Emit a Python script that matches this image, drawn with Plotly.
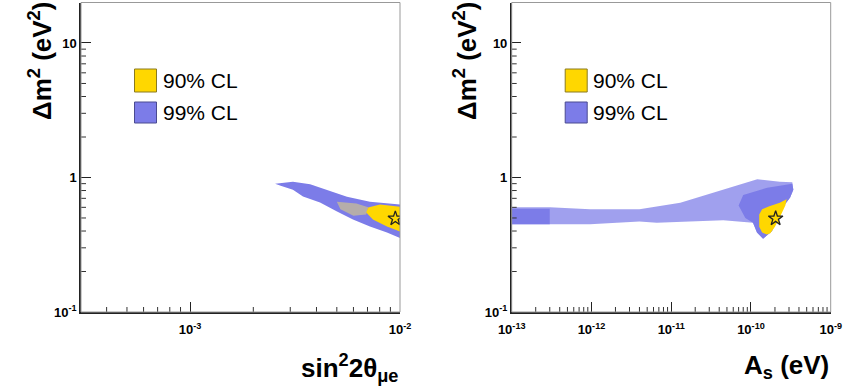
import math
import plotly.graph_objects as go
from plotly.subplots import make_subplots

# ---------------- data ----------------
# Left panel: sin^2 2theta vs dm^2
L_blue_x = [2.54e-3, 3.09e-3, 3.73e-3, 4.49e-3, 5.59e-3, 7.19e-3, 1.0e-2, 1.0e-2,
            8.67e-3, 7.19e-3, 5.97e-3, 5.01e-3, 4.16e-3, 3.45e-3, 3.09e-3, 2.70e-3]
L_blue_y = [0.90, 0.93, 0.89, 0.81, 0.72, 0.66, 0.63, 0.355,
            0.39, 0.432, 0.488, 0.559, 0.652, 0.722, 0.81, 0.87]
L_mix_x = [5.0e-3, 6.2e-3, 7.05e-3, 6.9e-3, 6.0e-3, 5.2e-3]
L_mix_y = [0.66, 0.64, 0.60, 0.53, 0.52, 0.58]
L_yel_x = [7.05e-3, 8.03e-3, 1.0e-2, 1.0e-2, 8.67e-3, 7.43e-3, 6.9e-3]
L_yel_y = [0.598, 0.63, 0.605, 0.397, 0.432, 0.488, 0.55]
L_best = (9.5e-3, 0.495)

# Right panel: A_s vs dm^2
R_blue_x = [1e-13, 3e-13, 9.6e-13, 4e-12, 1.3e-11, 3.3e-11, 7.3e-11, 1.2e-10, 2.3e-10,
            3.3e-10, 3.4e-10, 3.1e-10, 2.3e-10, 1.84e-10, 1.42e-10, 1.19e-10, 1.06e-10,
            4.5e-11, 1.7e-11, 6.6e-12, 4e-12, 9.6e-13, 3e-13, 1e-13]
R_blue_y = [0.60, 0.60, 0.58, 0.58, 0.65, 0.77, 0.89, 0.97, 0.93,
            0.92, 0.81, 0.71, 0.56, 0.40, 0.35, 0.39, 0.46,
            0.48, 0.47, 0.46, 0.47, 0.45, 0.45, 0.45]
R_dense_x = [1e-13, 3e-13, 3e-13, 1e-13]
R_dense_y = [0.585, 0.585, 0.45, 0.45]
R_core_x = [8e-11, 1.6e-10, 3.3e-10, 3.4e-10, 3.1e-10, 2.3e-10, 1.84e-10, 1.42e-10,
            1.19e-10, 1.06e-10, 8.5e-11, 7e-11]
R_core_y = [0.74, 0.84, 0.90, 0.81, 0.71, 0.56, 0.40, 0.35,
            0.39, 0.46, 0.50, 0.62]
R_yel_x = [2.8e-10, 2.7e-10, 2.35e-10, 2.0e-10, 1.75e-10, 1.58e-10, 1.38e-10, 1.27e-10,
           1.27e-10, 1.38e-10, 1.7e-10, 2.3e-10]
R_yel_y = [0.69, 0.62, 0.52, 0.43, 0.385, 0.377, 0.39, 0.43,
           0.53, 0.58, 0.61, 0.65]
R_best = (2.04e-10, 0.496)

y_tickvals = [0.1, 1, 10]
y_ticktext = ["<b>10<sup>-1</sup></b>", "<b>1</b>", "<b>10</b>"]
xl_tickvals = [1e-3, 1e-2]
xl_ticktext = ["<b>10<sup>-3</sup></b>", "<b>10<sup>-2</sup></b>"]
xr_tickvals = [1e-13, 1e-12, 1e-11, 1e-10, 1e-9]
xr_ticktext = ["<b>10<sup>-13</sup></b>", "<b>10<sup>-12</sup></b>", "<b>10<sup>-11</sup></b>",
               "<b>10<sup>-10</sup></b>", "<b>10<sup>-9</sup></b>"]
legend_labels = ["90% CL", "99% CL"]

# ---------------- style ----------------
YEL = "#FFD700"
BLUE = "#7C7CE8"
BLUE_L = "rgba(124,124,232,0.72)"
FONT = "Liberation Sans"
W, H = 846, 391

fig = make_subplots(rows=1, cols=2)


def poly(x, y, color, col):
    fig.add_trace(go.Scatter(x=x, y=y, mode="lines", fill="toself", fillcolor=color,
                             line=dict(width=0, color=color), hoverinfo="skip",
                             showlegend=False), row=1, col=col)


poly(L_blue_x, L_blue_y, BLUE, 1)
poly(L_mix_x, L_mix_y, "rgba(200,190,150,0.75)", 1)
poly(L_yel_x, L_yel_y, YEL, 1)
poly(R_blue_x, R_blue_y, BLUE_L, 2)
poly(R_dense_x, R_dense_y, BLUE, 2)
poly(R_core_x, R_core_y, BLUE, 2)
poly(R_yel_x, R_yel_y, YEL, 2)

for (bx, by), col in [(L_best, 1), (R_best, 2)]:
    fig.add_trace(go.Scatter(x=[bx], y=[by], mode="markers",
                             marker=dict(symbol="star", size=11, color=YEL,
                                         line=dict(color="#222", width=1.3)),
                             hoverinfo="skip", showlegend=False), row=1, col=col)

# domains in pixels
lx0, lx1 = 81, 400
rx0, rx1 = 511.7, 830.7
ytop, ybot = 2.5, 312
xdomL = [lx0 / W, lx1 / W]
xdomR = [rx0 / W, rx1 / W]
ydom = [1 - ybot / H, 1 - ytop / H]
yrange = [-1, 1.301]
xrangeL = [-3.52, -2]
xrangeR = [-13, -9]

tickfont = dict(family=FONT, size=13, color="black")
major = dict(type="log", showgrid=False, zeroline=False, showline=True, automargin=False,
             linecolor="#222", linewidth=1.5, ticks="inside", ticklen=10,
             tickcolor="#222", tickwidth=1.2, tickfont=tickfont)

fig.update_layout(
    xaxis=dict(domain=xdomL, range=xrangeL, tickvals=xl_tickvals, ticktext=xl_ticktext,
               ticklabelstandoff=5, **major),
    xaxis2=dict(domain=xdomR, range=xrangeR, tickvals=xr_tickvals, ticktext=xr_ticktext,
                ticklabelstandoff=5, **major),
    yaxis=dict(domain=ydom, range=yrange, tickvals=y_tickvals, ticktext=y_ticktext, **major),
    yaxis2=dict(domain=ydom, range=yrange, tickvals=y_tickvals, ticktext=y_ticktext, **major),
    width=W, height=H, margin=dict(l=0, r=0, t=0, b=0, autoexpand=False),
    paper_bgcolor="white", plot_bgcolor="white", showlegend=False,
    font=dict(family=FONT, color="black"),
)

shapes = []
annotations = []


def minor_ticks(xr, yr, rng, axis):
    lo, hi = rng
    for e in range(math.floor(lo), math.ceil(hi) + 1):
        for m in range(2, 10):
            lv = e + math.log10(m)
            if lo < lv < hi:
                f = (lv - lo) / (hi - lo)
                if axis == "x":
                    shapes.append(dict(type="line", xref=xr, yref=yr, x0=f, x1=f,
                                       ysizemode="pixel", yanchor=0, y0=0, y1=5,
                                       line=dict(color="#333", width=1)))
                else:
                    shapes.append(dict(type="line", xref=xr, yref=yr, y0=f, y1=f,
                                       xsizemode="pixel", xanchor=0, x0=0, x1=5,
                                       line=dict(color="#333", width=1)))


minor_ticks("x domain", "y domain", xrangeL, "x")
minor_ticks("x domain", "y domain", yrange, "y")
minor_ticks("x2 domain", "y2 domain", xrangeR, "x")
minor_ticks("x2 domain", "y2 domain", yrange, "y")

for xr, yr, x0 in [("x domain", "y domain", lx0), ("x2 domain", "y2 domain", rx0)]:
    # frame
    shapes.append(dict(type="rect", xref=xr, yref=yr, x0=0, x1=1, y0=0, y1=1,
                       line=dict(color="#999", width=1), layer="above"))
    # legend boxes
    boxes = [(YEL, "#8a7a20", 69, 92), (BLUE, "#4a4a90", 102, 123)]
    for (fc, lc, py0, py1), lab in zip(boxes, legend_labels):
        shapes.append(dict(type="rect", xref="paper", yref="paper",
                           x0=(x0 + 53.5) / W, x1=(x0 + 75.5) / W,
                           y0=1 - py1 / H, y1=1 - py0 / H,
                           fillcolor=fc, line=dict(color=lc, width=1)))
        annotations.append(dict(xref="paper", yref="paper", x=(x0 + 79.5) / W,
                                y=1 - (py0 + py1) / 2 / H, text=lab, showarrow=False,
                                xanchor="left", yanchor="middle",
                                font=dict(family=FONT, size=21, color="black")))

title_font = dict(family=FONT, size=26, color="black")
annotations += [
    dict(xref="paper", yref="paper", x=40 / W, y=1.0, xanchor="center", yanchor="top",
         text="<b>Δm<sup>2</sup> (eV<sup>2</sup>)</b>", textangle=-90, showarrow=False,
         font=title_font),
    dict(xref="paper", yref="paper", x=465 / W, y=1.0, xanchor="center", yanchor="top",
         text="<b>Δm<sup>2</sup> (eV<sup>2</sup>)</b>", textangle=-90, showarrow=False,
         font=title_font),
    dict(xref="paper", yref="paper", x=400 / W, y=1 - 368 / H, xanchor="right",
         yanchor="middle", text="<b>sin<sup>2</sup>2θ<sub>μe</sub></b>", showarrow=False,
         font=title_font),
    dict(xref="paper", yref="paper", x=831 / W, y=1 - 366 / H, xanchor="right",
         yanchor="middle", text="<b>A<sub>s</sub> (eV)</b>", showarrow=False,
         font=title_font),
]
fig.update_layout(shapes=shapes, annotations=annotations)

fig.write_html("out.html")
